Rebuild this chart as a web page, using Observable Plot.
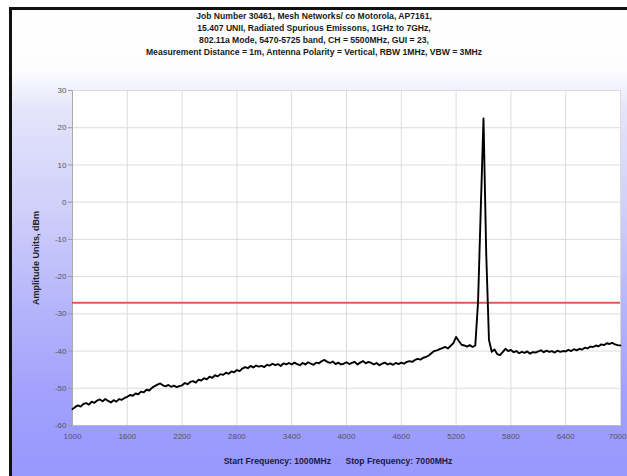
<!DOCTYPE html>
<html>
<head>
<meta charset="utf-8">
<script src="https://cdn.jsdelivr.net/npm/d3@7"></script>
<script src="https://cdn.jsdelivr.net/npm/@observablehq/plot@0.6"></script>
<style>
  html, body { margin: 0; padding: 0; background: #fff; }
  #wrap { position: relative; width: 627px; height: 476px; overflow: hidden; background: #fff;
          font-family: "Liberation Sans", Arial, sans-serif; }
  #frame { position: absolute; left: 9px; top: 7px; width: 700px; height: 480px;
           border-top: 3px solid #111; border-left: 3px solid #111;
           background: linear-gradient(to bottom, #ffffff 0px, #fdfdff 60px, #e4e4fb 100px, #cfcffa 200px, #b4b4fb 300px, #a0a0fd 390px, #9797fe 470px); }
  #title { position: absolute; top: 10px; left: 0; width: 628px; text-align: center;
           font-weight: bold; font-size: 8.6px; line-height: 12px; color: #1a1a1a; }
  #chart { position: absolute; top: 62px; left: 0; }
  #caption { position: absolute; top: 456px; left: 0; width: 676px; text-align: center;
             font-weight: bold; font-size: 8.6px; color: #1a1a40; white-space: pre; }
  #chart g[aria-label="y-axis label"] text { font-weight: bold; font-size: 9px; fill: #222; }
</style>
</head>
<body>
<div id="wrap">
  <div id="frame"></div>
  <div id="title"></div>
  <div id="chart"></div>
  <div id="caption"></div>
</div>
<script>
const titleLines = [
  "Job Number 30461, Mesh Networks/ co Motorola, AP7161,",
  "15.407 UNII, Radiated Spurious Emissons, 1GHz to 7GHz,",
  "802.11a Mode, 5470-5725 band,  CH = 5500MHz, GUI = 23,",
  "Measurement Distance = 1m, Antenna Polarity = Vertical, RBW 1MHz, VBW = 3MHz"
];
const captionText = "Start Frequency: 1000MHz      Stop Frequency: 7000MHz";
const yLabel = "Amplitude Units, dBm";

const xTicks = [1000, 1600, 2200, 2800, 3400, 4000, 4600, 5200, 5800, 6400, 7000];
const yTicks = [30, 20, 10, 0, -10, -20, -30, -40, -50, -60];
const limitLine = -27;

// sweep frequencies, MHz (1000 to 7000 every 30 MHz)
const startFreq = 1000, stopFreq = 7000, stepFreq = 30;
// measured amplitude, dBm, one value per sweep point
const amplitude = [
  -55.6, -55.0, -54.6, -54.9, -54.2, -54.0, -54.4, -53.6, -53.9, -53.3,
  -53.0, -53.5, -52.9, -53.4, -53.8, -53.2, -53.6, -52.9, -53.1, -52.6,
  -52.3, -51.8, -52.0, -51.4, -51.6, -50.9, -51.1, -50.4, -50.6, -49.9,
  -49.4, -49.0, -48.7, -49.2, -49.5, -49.1, -49.6, -49.3, -49.7, -49.4,
  -49.2, -48.6, -48.9, -48.3, -48.1, -48.5, -47.7, -47.9, -47.3, -47.6,
  -46.9, -47.2, -46.5, -46.8, -46.2, -46.4, -45.8, -46.1, -45.5, -45.7,
  -45.1, -45.4, -44.7, -44.3, -44.6, -44.0, -44.4, -43.9, -44.2, -44.0,
  -44.3, -43.7, -43.9, -43.4, -43.8, -43.5, -44.0, -43.3, -43.6, -43.2,
  -43.6, -43.1, -43.5, -43.8, -43.2, -43.6, -43.0, -43.4, -43.7, -43.1,
  -43.3, -42.7, -42.4, -42.9, -43.2, -42.8, -43.5, -43.1, -43.6, -43.4,
  -43.0, -43.5, -43.2, -42.9, -43.6, -43.1, -42.7, -43.3, -42.9, -43.2,
  -43.6, -43.2, -43.8, -43.4, -43.1, -43.6, -43.3, -43.7, -43.2, -43.5,
  -43.1, -43.4, -42.9, -42.7, -42.9, -42.4, -42.1, -42.3, -41.8, -41.6,
  -41.2, -40.6, -40.0, -39.8, -39.5, -39.2, -38.9, -39.3, -38.6, -37.9,
  -36.2, -37.3, -38.3, -38.5, -38.8, -38.4, -38.9, -38.5, -27.0, -2.0,
   22.5, -14.0, -37.0, -40.2, -39.6, -40.8, -41.1, -40.3, -39.4, -40.0,
  -39.7, -40.3, -40.0, -40.6, -40.2, -40.5, -40.1, -40.7, -40.3, -40.4,
  -40.1, -39.8, -40.3, -39.9, -40.2, -40.0, -40.4, -39.9, -40.2, -40.0,
  -40.1, -39.7, -40.0, -39.5, -39.8, -39.4, -39.6, -39.1, -39.3, -38.8,
  -38.9, -38.5, -38.7, -38.2, -38.4, -37.9, -38.1, -37.8, -38.2, -38.4,
  -38.5
];

document.getElementById("title").innerHTML = titleLines.join("<br>");
document.getElementById("caption").textContent = captionText;

const freqs = d3.range(startFreq, stopFreq + 1, stepFreq);
const data = freqs.map((f, i) => ({f, a: amplitude[i]}));
const innerTicks = xTicks.slice(0, -1);
const lastTick = xTicks.slice(-1);

const chart = Plot.plot({
  width: 627,
  height: 390,
  marginLeft: 72,
  marginRight: 7,
  marginTop: 28,
  marginBottom: 27,
  style: {background: "transparent", fontFamily: "'Liberation Sans', Arial, sans-serif", fontSize: "8px", color: "#555", overflow: "visible"},
  x: {domain: [startFreq, stopFreq]},
  y: {domain: [-60, 30]},
  marks: [
    Plot.frame({fill: "white", stroke: null}),
    Plot.gridX(xTicks, {stroke: "#dcdcdc", strokeOpacity: 1}),
    Plot.gridY(yTicks, {stroke: "#dcdcdc", strokeOpacity: 1}),
    Plot.axisX(innerTicks, {tickSize: 0, tickPadding: 8, tickFormat: d => String(d), label: null}),
    Plot.axisX(lastTick, {tickSize: 0, tickPadding: 8, tickFormat: d => String(d), label: null, textAnchor: "end", dx: 6}),
    Plot.axisY(yTicks, {tickSize: 4, tickPadding: 2, stroke: "#999", tickFormat: d => String(d),
      label: yLabel, labelAnchor: "center", labelArrow: "none", labelOffset: 40}),
    Plot.ruleX([startFreq], {stroke: "#aaa"}),
    Plot.ruleY([-60], {stroke: "#bbb"}),
    Plot.ruleY([limitLine], {stroke: "#e05a5a", strokeWidth: 2}),
    Plot.line(data, {x: "f", y: "a", stroke: "#000", strokeWidth: 1.9})
  ]
});
document.getElementById("chart").appendChild(chart);
</script>
</body>
</html>
